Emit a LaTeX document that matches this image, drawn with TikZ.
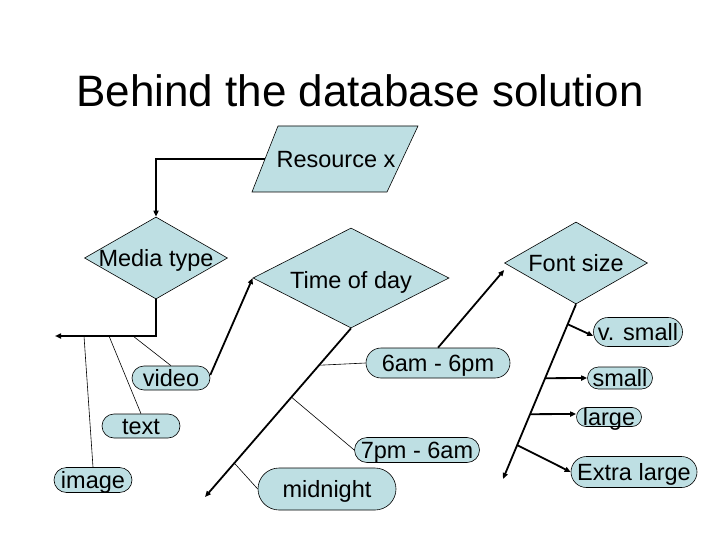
\documentclass[tikz,border=0pt]{standalone}
\usepackage{fontspec}
\setmainfont{Liberation Sans}
\usetikzlibrary{shapes.geometric,shapes.misc,arrows.meta,calc}
\definecolor{boxfill}{RGB}{190,223,227}
\begin{document}
\begin{tikzpicture}[x=1pt,y=-1pt,
  lbl/.style={font=\fontsize{23.5}{28}\selectfont, text height=16.8pt, text depth=0pt, inner sep=0pt},
  dec/.style={lbl, diamond, draw=black, line width=0.6pt, fill=boxfill},
  pill/.style={lbl, rounded rectangle, draw=black, line width=0.6pt, fill=boxfill},
  thk/.style={line width=1.8pt, -{Triangle[length=6pt,width=5pt]}},
  thkn/.style={line width=1.8pt},
  thn/.style={line width=0.6pt}
]
\useasboundingbox (0,0) rectangle (720,540);
% title
\node[font=\fontsize{44}{50}\selectfont, anchor=base, inner sep=0pt] (title) at (360,107) {Behind the database solution};
% parallelogram
\path[fill=boxfill, draw=black, line width=0.6pt] (278,126) -- (418,126) -- (387,192) -- (252,192) -- cycle;
\node[lbl, minimum width=142pt, minimum height=66pt] (rx) at (336,159) {Resource x};
% decisions
\node[dec, minimum width=143pt, minimum height=82pt] (mt) at (156,258) {\makebox[0pt]{Media type}};
\node[dec, minimum width=196pt, minimum height=100pt] (tod) at (351,278) {\makebox[0pt]{\raisebox{-2pt}{Time of day}}};
\node[dec, minimum width=143pt, minimum height=82pt] (fs) at (576,263) {\makebox[0pt]{Font size}};
% terminals
\node[pill, minimum width=78pt, minimum height=24pt] (video) at (171,378) {video};
\node[pill, minimum width=78pt, minimum height=24pt] (txt) at (141,426) {text};
\node[pill, minimum width=78pt, minimum height=25pt] (img) at (93,480) {image};
\node[pill, minimum width=144pt, minimum height=30pt] (sixam) at (438,363) {6am - 6pm};
\node[pill, minimum width=125pt, minimum height=25pt] (sevpm) at (417,450) {7pm - 6am};
\node[pill, minimum width=138pt, minimum height=42pt] (mid) at (327,489) {midnight};
\node[pill, minimum width=89pt, minimum height=29pt] (vs) at (638,332) {v. small};
\node[pill, minimum width=65pt, minimum height=22pt] (sm) at (620,378) {small};
\node[pill, minimum width=65pt, minimum height=19pt] (lg) at (609,417) {large};
\node[pill, minimum width=126pt, minimum height=31pt] (xl) at (634,472) {Extra large};
% connectors
\draw[thk] (rx.west) -| (mt.north);
\coordinate (mtend) at (55,336);
\draw[thk] (mt.south) |- (mtend);
\coordinate (m1) at (84,336);
\coordinate (m2) at (109,336);
\coordinate (m3) at (133,336);
\draw[thn] (m1) -- (img.north);
\draw[thn] (m2) -- (txt.north);
\draw[thn] (m3) -- (video.north);
\draw[thk] ([yshift=3pt]video.east) -- (tod.west);
\coordinate (todend) at (205,497);
\draw[thk] (tod.south) -- (todend);
\coordinate (t1) at ($(tod.south)!0.219!(todend)$);
\coordinate (t2) at ($(tod.south)!0.408!(todend)$);
\coordinate (t3) at ($(tod.south)!0.799!(todend)$);
\draw[thn] (t1) -- (sixam.west);
\draw[thn] (t2) -- (sevpm.west);
\draw[thn] (t3) -- (mid.west);
\draw[thk] (sixam.north) -- ([yshift=-7pt]fs.west);
\coordinate (fsend) at (503,479);
\draw[thk] (fs.south) -- (fsend);
\coordinate (f1) at ($(fs.south)!0.114!(fsend)$);
\coordinate (f2) at ($(fs.south)!0.423!(fsend)$);
\coordinate (f3) at ($(fs.south)!0.629!(fsend)$);
\coordinate (f4) at ($(fs.south)!0.806!(fsend)$);
\draw[thk] (f1) -- ([yshift=-4pt]vs.west);
\draw[thk] (f2) -- (sm.west);
\draw[thk] (f3) -- ([yshift=3pt]lg.west);
\draw[thk] (f4) -- (xl.west);
\end{tikzpicture}
\end{document}
